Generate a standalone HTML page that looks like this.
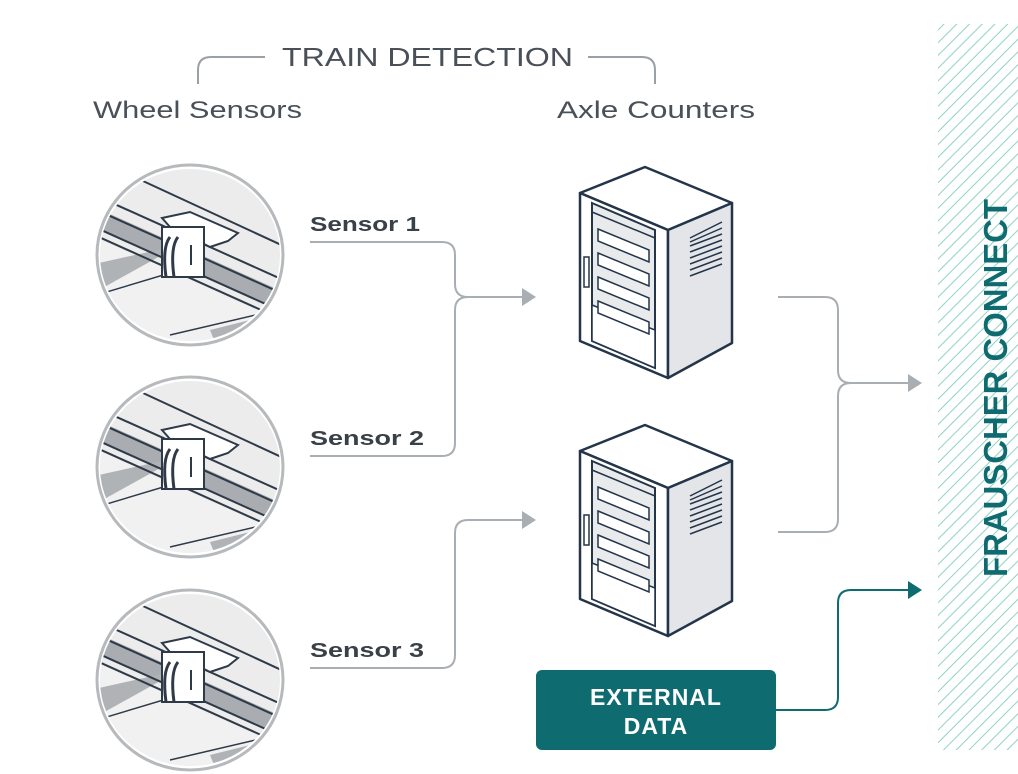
<!DOCTYPE html>
<html><head><meta charset="utf-8"><style>
html,body{margin:0;padding:0;background:#fff}
svg{display:block}
text{font-family:"Liberation Sans",sans-serif}
</style></head><body>
<svg width="1018" height="774" viewBox="0 0 1018 774" xmlns="http://www.w3.org/2000/svg">
<defs>
<pattern id="hatch" width="9" height="9" patternUnits="userSpaceOnUse" patternTransform="rotate(45)">
<rect width="9" height="9" fill="#fff"/>
<line x1="0" y1="0" x2="0" y2="9" stroke="#8fd3c4" stroke-width="2"/>
</pattern>
<clipPath id="ec"><ellipse cx="0" cy="0" rx="90" ry="86"/></clipPath>
<g id="sensor">
<ellipse cx="0" cy="0" rx="93" ry="90" fill="#fff" stroke="#b7babd" stroke-width="3"/>
<g clip-path="url(#ec)">
<rect x="-100" y="-100" width="200" height="200" fill="#ececec"/>
<polygon points="-100,-50 100,40 100,60 -100,-30" fill="#a9acb0"/>
<polygon points="-100,-20 100,70 100,100 -100,100" fill="#f1f1f1"/>
<polygon points="-100,10 -10,-10 -100,40" fill="#b0b3b6"/>
<polygon points="20,75 100,55 100,100 30,100" fill="#b0b3b6"/>
<line x1="-100" y1="-62" x2="100" y2="28" stroke="#2e3a48" stroke-width="2"/>
<line x1="-100" y1="-48" x2="100" y2="42" stroke="#2e3a48" stroke-width="2"/>
<line x1="-100" y1="-30" x2="100" y2="60" stroke="#2e3a48" stroke-width="2"/>
<line x1="-100" y1="-22" x2="100" y2="68" stroke="#2e3a48" stroke-width="2"/>
<line x1="-60" y1="-80" x2="100" y2="-6" stroke="#2e3a48" stroke-width="2"/>
<line x1="-100" y1="42" x2="-10" y2="15" stroke="#2e3a48" stroke-width="1.5"/>
<line x1="-20" y1="80" x2="100" y2="52" stroke="#2e3a48" stroke-width="1.5"/>
<polygon points="-28,-37 0,-43 48,-22 38,-14 20,-8 -20,-28" fill="#fff" stroke="#2e3a48" stroke-width="2"/>
<rect x="-28" y="-28" width="42" height="50" fill="#fff" stroke="#2e3a48" stroke-width="2"/>
<path d="M-20,-18 q-8,10 -4,40 M-12,-18 q-8,10 -4,40" stroke="#2e3a48" stroke-width="3" fill="none"/>
<line x1="1" y1="-10" x2="1" y2="10" stroke="#2e3a48" stroke-width="2"/>
</g>
</g>
<g id="server">
<polygon points="580,193 645,167 732,203 668,230" fill="#fff" stroke="#24354a" stroke-width="2.5" stroke-linejoin="round"/>
<polygon points="580,193 668,230 668,378 580,341" fill="#fff" stroke="#24354a" stroke-width="2.5" stroke-linejoin="round"/>
<polygon points="668,230 732,203 732,343 668,378" fill="#e3e5e8" stroke="#24354a" stroke-width="2.5" stroke-linejoin="round"/>
<polygon points="592,203 655,230 655,368 592,341" fill="#e8eaec" stroke="#24354a" stroke-width="2"/>
<polygon points="592,305 655,330 655,368 592,341" fill="#fff" stroke="#24354a" stroke-width="1.5"/>
<line x1="592" y1="212" x2="655" y2="238" stroke="#24354a" stroke-width="1.5"/>
<g fill="#fff" stroke="#24354a" stroke-width="1.5">
<polygon points="598,229 649,250 649,262 598,241"/>
<polygon points="598,253 649,274 649,286 598,265"/>
<polygon points="598,277 649,298 649,310 598,289"/>
<polygon points="598,301 649,322 649,334 598,313"/>
</g>
<rect x="584" y="257" width="5" height="30" fill="#fff" stroke="#24354a" stroke-width="1.5"/>
<g stroke="#24354a" stroke-width="1.5">
<line x1="690" y1="238" x2="722" y2="222"/><line x1="690" y1="242" x2="722" y2="228"/>
<line x1="690" y1="246" x2="722" y2="234"/><line x1="690" y1="252" x2="722" y2="240"/>
<line x1="690" y1="258" x2="722" y2="246"/><line x1="690" y1="264" x2="722" y2="252"/>
<line x1="690" y1="270" x2="722" y2="258"/><line x1="690" y1="276" x2="722" y2="264"/>
</g>
</g>
</defs>

<rect x="938" y="24" width="80" height="726" fill="url(#hatch)"/>
<text transform="translate(1007,388) rotate(-90)" text-anchor="middle" font-size="33" font-weight="bold" fill="#0e6b70" textLength="378" lengthAdjust="spacingAndGlyphs">FRAUSCHER CONNECT</text>

<text x="282" y="66" font-size="26" fill="#4a5058" textLength="291" lengthAdjust="spacingAndGlyphs">TRAIN DETECTION</text>
<path d="M198,84 V70 Q198,57 211,57 H265 M588,57 H642 Q655,57 655,70 V84" stroke="#9aa0a6" stroke-width="2" fill="none"/>
<text x="93" y="118" font-size="24" fill="#4a5058" textLength="209" lengthAdjust="spacingAndGlyphs">Wheel Sensors</text>
<text x="557" y="118" font-size="24" fill="#4a5058" textLength="198" lengthAdjust="spacingAndGlyphs">Axle Counters</text>

<use href="#sensor" transform="translate(190,255)"/>
<use href="#sensor" transform="translate(190,467)"/>
<use href="#sensor" transform="translate(190,680)"/>

<g font-size="20" font-weight="bold" fill="#3a4047">
<text x="310" y="231" textLength="110" lengthAdjust="spacingAndGlyphs">Sensor 1</text>
<text x="310" y="445" textLength="114" lengthAdjust="spacingAndGlyphs">Sensor 2</text>
<text x="310" y="657" textLength="114" lengthAdjust="spacingAndGlyphs">Sensor 3</text>
</g>

<g stroke="#a9aeb3" stroke-width="2" fill="none">
<path d="M310,242 H442 Q455,242 455,255 V284 Q455,297 468,297 H524"/>
<path d="M310,456 H442 Q455,456 455,443 V310 Q455,297 468,297"/>
<path d="M310,668 H442 Q455,668 455,655 V533 Q455,520 468,520 H524"/>
<path d="M778,297 H825 Q838,297 838,310 V370 Q838,383 851,383 H910"/>
<path d="M778,532 H825 Q838,532 838,519 V396 Q838,383 851,383"/>
</g>
<g fill="#a9aeb3">
<polygon points="522,288 536,297 522,306"/>
<polygon points="522,511 536,520 522,529"/>
<polygon points="908,374 922,383 908,392"/>
</g>

<use href="#server"/>
<use href="#server" transform="translate(0,258)"/>

<rect x="536" y="670" width="240" height="80" rx="6" fill="#0e6b70"/>
<text x="656" y="705" text-anchor="middle" font-size="23" font-weight="bold" fill="#fff" letter-spacing="1">EXTERNAL</text>
<text x="656" y="734" text-anchor="middle" font-size="23" font-weight="bold" fill="#fff" letter-spacing="1">DATA</text>
<path d="M776,710 H825 Q838,710 838,697 V603 Q838,590 851,590 H910" stroke="#0e6b70" stroke-width="2" fill="none"/>
<polygon points="908,581 922,590 908,599" fill="#0e6b70"/>
</svg>
</body></html>
